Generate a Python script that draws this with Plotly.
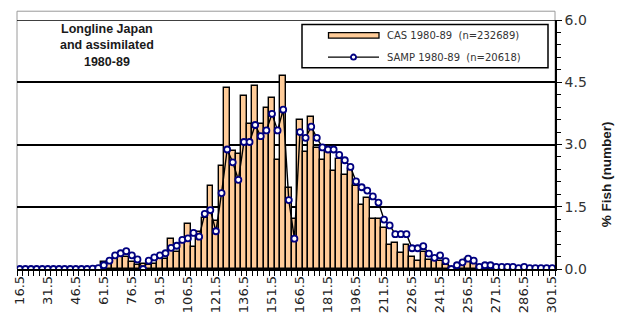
import plotly.graph_objects as go

# Length classes (cm), 3 cm bins from 16.5 to 301.5
length_class = [16.5 + 3 * k for k in range(96)]

# CAS 1980-89 length frequency, % of fish (number)
cas_pct = [
    0.0, 0.0, 0.0, 0.0, 0.0, 0.0, 0.0, 0.0, 0.0, 0.0,
    0.0, 0.0, 0.0, 0.0, 0.04, 0.16, 0.16, 0.25, 0.33, 0.30,
    0.16, 0.10, 0.12, 0.10, 0.13, 0.26, 0.24, 0.72, 0.40, 0.62,
    1.09, 0.53, 0.90, 1.23, 1.99, 1.16, 2.49, 4.37, 2.85, 2.77,
    4.18, 3.49, 4.41, 3.49, 3.87, 4.13, 2.63, 4.64, 1.95, 1.20,
    3.59, 2.83, 3.67, 2.91, 2.63, 2.85, 2.36, 2.65, 2.26, 2.40,
    2.00, 1.54, 1.71, 1.21, 1.21, 0.98, 0.58, 0.62, 0.38, 0.58,
    0.30, 0.20, 0.40, 0.21, 0.21, 0.20, 0.09, 0.02, 0.03, 0.12,
    0.25, 0.14, 0.05, 0.04, 0.04, 0.03, 0.02, 0.03, 0.02, 0.01,
    0.02, 0.01, 0.01, 0.01, 0.01, 0.01,
]

# SAMP 1980-89 length frequency, % of fish (number)
samp_pct = [
    0.0, 0.0, 0.0, 0.0, 0.0, 0.0, 0.0, 0.0, 0.0, 0.0,
    0.0, 0.0, 0.0, 0.01, 0.02, 0.09, 0.20, 0.33, 0.38, 0.43,
    0.33, 0.23, 0.0, 0.20, 0.28, 0.33, 0.38, 0.51, 0.56, 0.70,
    0.74, 0.87, 0.78, 1.33, 1.42, 0.91, 1.83, 2.88, 2.57, 2.15,
    3.06, 3.06, 3.47, 3.20, 3.34, 3.74, 3.34, 3.84, 1.66, 0.73,
    3.30, 3.16, 3.43, 3.16, 2.93, 2.88, 2.88, 2.75, 2.62, 2.46,
    2.11, 1.97, 1.89, 1.75, 1.60, 1.19, 1.05, 0.84, 0.84, 0.84,
    0.50, 0.50, 0.55, 0.37, 0.27, 0.33, 0.19, 0.0, 0.09, 0.16,
    0.25, 0.20, 0.05, 0.09, 0.09, 0.05, 0.05, 0.05, 0.05, 0.02,
    0.05, 0.02, 0.02, 0.02, 0.02, 0.02,
]

x_tick_vals = [16.5, 31.5, 46.5, 61.5, 76.5, 91.5, 106.5, 121.5, 136.5, 151.5,
               166.5, 181.5, 196.5, 211.5, 226.5, 241.5, 256.5, 271.5, 286.5, 301.5]
x_tick_text = ["16.5", "31.5", "46.5", "61.5", "76.5", "91.5", "106.5", "121.5",
               "136.5", "151.5", "166.5", "181.5", "196.5", "211.5", "226.5",
               "241.5", "256.5", "271.5", "286.5", "301.5"]
y_tick_vals = [0.0, 1.5, 3.0, 4.5, 6.0]
y_tick_text = ["0.0", "1.5", "3.0", "4.5", "6.0"]
y_max = 6.0

legend_labels = ["CAS 1980-89  (n=232689)", "SAMP 1980-89  (n=20618)"]

BAR_FILL = "#FFCC99"
NAVY = "#000080"

W, H = 627, 329
ML, MR, MT, MB = 17, 72, 14, 60
PW, PH = W - ML - MR, H - MT - MB


def px(x):
    return (x - ML) / PW


def py(y):
    return 1 - (y - MT) / PH


fig = go.Figure()

fig.add_trace(go.Bar(
    x=length_class, y=cas_pct, width=3,
    marker=dict(color=BAR_FILL, line=dict(color="black", width=1.4)),
    showlegend=False,
))

fig.add_trace(go.Scatter(
    x=length_class, y=samp_pct, mode="lines+markers",
    line=dict(color="black", width=1.4),
    marker=dict(symbol="circle", size=6, color="white",
                line=dict(color=NAVY, width=1.8)),
    showlegend=False,
))

shapes = []
# plot-area frame
shapes.append(dict(type="rect", xref="paper", yref="paper",
                   x0=0, x1=1, y0=0, y1=py(5),
                   line=dict(color="#9a9a9a", width=1), layer="below"))
# top gridline at the axis maximum
shapes.append(dict(type="line", xref="paper", yref="y",
                   x0=0, x1=1, y0=y_max, y1=y_max,
                   line=dict(color="black", width=1.5)))
# legend box
shapes.append(dict(type="rect", xref="paper", yref="paper",
                   x0=px(302), x1=px(548), y0=py(63), y1=py(18.5),
                   line=dict(color="black", width=1.5), fillcolor="white"))
# legend bar swatch
shapes.append(dict(type="rect", xref="paper", yref="paper",
                   x0=px(328.5), x1=px(379), y0=py(32.5), y1=py(27),
                   line=dict(color="black", width=1.3), fillcolor=BAR_FILL))
# legend line swatch
shapes.append(dict(type="line", xref="paper", yref="paper",
                   x0=px(328), x1=px(379), y0=py(52), y1=py(52),
                   line=dict(color="black", width=1.4)))
shapes.append(dict(type="circle", xref="paper", yref="paper",
                   xsizemode="pixel", ysizemode="pixel",
                   xanchor=px(353.5), yanchor=py(52),
                   x0=-2.6, x1=2.6, y0=-2.6, y1=2.6,
                   line=dict(color=NAVY, width=1.8), fillcolor="white"))

annotations = [
    dict(text="<b>Longline Japan<br>and assimilated<br>1980-89</b>",
         xref="paper", yref="paper", x=px(107), y=py(40),
         xanchor="center", yanchor="middle", showarrow=False, align="center",
         font=dict(family="Liberation Sans, Arial, sans-serif", size=12.5,
                   color="#1a1a1a")),
    dict(text="<b>% Fish (number)</b>", textangle=-90,
         xref="paper", yref="paper", x=px(606), y=py(172),
         xanchor="center", yanchor="middle", showarrow=False,
         font=dict(family="Liberation Sans, Arial, sans-serif", size=13.5,
                   color="#1a1a1a")),
    dict(text=legend_labels[0], xref="paper", yref="paper",
         x=px(385), y=py(29.5), xanchor="left", yanchor="middle",
         showarrow=False,
         font=dict(family="DejaVu Sans, Verdana, sans-serif", size=10,
                   color="#333333")),
    dict(text=legend_labels[1], xref="paper", yref="paper",
         x=px(385), y=py(52.5), xanchor="left", yanchor="middle",
         showarrow=False,
         font=dict(family="DejaVu Sans, Verdana, sans-serif", size=10,
                   color="#333333")),
]

fig.update_layout(
    width=W, height=H,
    margin=dict(l=ML, r=MR, t=MT, b=MB),
    paper_bgcolor="white", plot_bgcolor="white",
    bargap=0,
    shapes=shapes, annotations=annotations,
    showlegend=False,
)

fig.update_xaxes(
    range=[15, 303],
    tickmode="array", tickvals=x_tick_vals, ticktext=x_tick_text,
    tickangle=-90, ticks="", ticklen=0,
    tickfont=dict(family="DejaVu Sans, Verdana, sans-serif", size=13,
                  color="#222222"),
    showgrid=False, zeroline=False,
    showline=True, linecolor="black", linewidth=1.5,
    minor=dict(ticks="outside", tick0=15, dtick=3, ticklen=5,
               tickcolor="black", tickwidth=1.3, showgrid=False),
)

fig.update_yaxes(
    range=[0, y_max], side="right",
    tickmode="array", tickvals=y_tick_vals, ticktext=y_tick_text,
    ticks="outside", ticklen=5, tickcolor="black", tickwidth=1.3,
    tickfont=dict(family="DejaVu Sans, Verdana, sans-serif", size=14,
                  color="#333333"),
    showgrid=True, gridcolor="black", gridwidth=1.5,
    zeroline=False,
    showline=True, linecolor="black", linewidth=1.5,
    minor=dict(ticks="outside", tick0=0, dtick=0.3, ticklen=4,
               tickcolor="black", tickwidth=1.2, showgrid=False),
)

fig.write_html("out.html")
